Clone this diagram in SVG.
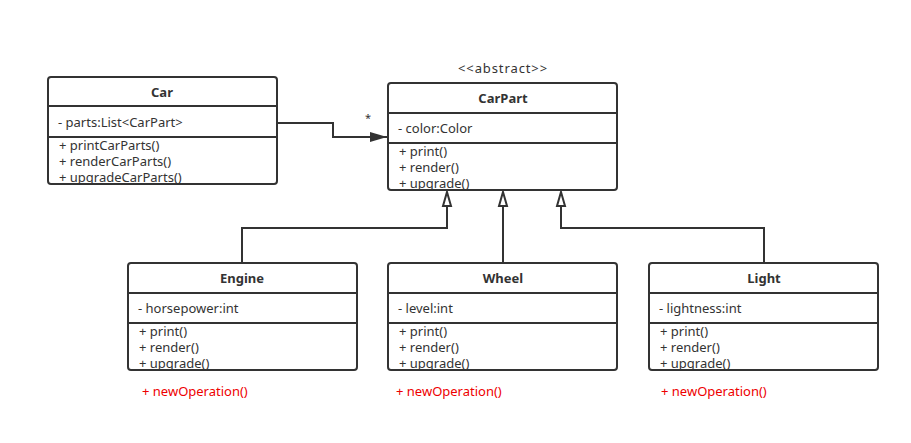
<svg xmlns="http://www.w3.org/2000/svg" width="911" height="443" viewBox="0 0 911 443">
<style>
.box{fill:#fff;stroke:#333;stroke-width:2}
.ln{stroke:#333;stroke-width:2;fill:none}
text{font-family:"Noto Sans","Open Sans",sans-serif;font-size:13px;fill:#333}
.t{font-weight:bold;text-anchor:middle}
.red{fill:#e00}
.c{text-anchor:middle}
</style>
<defs>
<marker id="fill" markerWidth="18" markerHeight="12" refX="17" refY="6" orient="auto" markerUnits="userSpaceOnUse">
<path d="M0,1 L17,6 L0,11 Z" fill="#333"/>
</marker>
</defs>
<rect width="911" height="443" fill="#fff"/>
<g id="connectors">
<path class="ln" d="M277,123 H333 V137 H387" marker-end="url(#fill)"/>
<text x="368" y="122" class="c" style="font-size:11px">*</text>
<path class="ln" d="M242,263 V228 H447 V207"/>
<path d="M447,192 L451,206 L443,206 Z" fill="#fff" stroke="#333" stroke-width="2"/>
<path class="ln" d="M503,263 V207"/>
<path d="M503,192 L507,206 L499,206 Z" fill="#fff" stroke="#333" stroke-width="2"/>
<path class="ln" d="M764,263 V228 H561 V207"/>
<path d="M561,192 L565,206 L557,206 Z" fill="#fff" stroke="#333" stroke-width="2"/>
</g>
<g id="car">
<rect class="box" x="48" y="77" width="229" height="107" rx="3"/>
<path class="ln" d="M48,106 H277 M48,137 H277"/>
<text x="162" y="97" class="t">Car</text>
<text x="58" y="127">- parts:List&lt;CarPart&gt;</text>
<text x="59" y="150">+ printCarParts()</text>
<text x="59" y="166">+ renderCarParts()</text>
<text x="59" y="182">+ upgradeCarParts()</text>
</g>
<g id="carpart">
<text x="503" y="73" class="c" style="letter-spacing:0.9px">&lt;&lt;abstract&gt;&gt;</text>
<rect class="box" x="388" y="83" width="229" height="107" rx="3"/>
<path class="ln" d="M388,113 H617 M388,143 H617"/>
<text x="503" y="103" class="t">CarPart</text>
<text x="398" y="133">- color:Color</text>
<text x="399" y="156">+ print()</text>
<text x="399" y="172">+ render()</text>
<text x="399" y="188">+ upgrade()</text>
</g>
<g id="engine">
<rect class="box" x="128" y="263" width="229" height="107" rx="3"/>
<path class="ln" d="M128,293 H357 M128,323 H357"/>
<text x="242" y="283" class="t">Engine</text>
<text x="138" y="313">- horsepower:int</text>
<text x="139" y="336">+ print()</text>
<text x="139" y="352">+ render()</text>
<text x="139" y="368">+ upgrade()</text>
<text x="142" y="396" class="red">+ newOperation()</text>
</g>
<g id="wheel">
<rect class="box" x="388" y="263" width="229" height="107" rx="3"/>
<path class="ln" d="M388,293 H617 M388,323 H617"/>
<text x="503" y="283" class="t">Wheel</text>
<text x="398" y="313">- level:int</text>
<text x="399" y="336">+ print()</text>
<text x="399" y="352">+ render()</text>
<text x="399" y="368">+ upgrade()</text>
<text x="396" y="396" class="red">+ newOperation()</text>
</g>
<g id="light">
<rect class="box" x="649" y="263" width="229" height="107" rx="3"/>
<path class="ln" d="M649,293 H878 M649,323 H878"/>
<text x="764" y="283" class="t">Light</text>
<text x="659" y="313">- lightness:int</text>
<text x="660" y="336">+ print()</text>
<text x="660" y="352">+ render()</text>
<text x="660" y="368">+ upgrade()</text>
<text x="661" y="396" class="red">+ newOperation()</text>
</g>
</svg>
